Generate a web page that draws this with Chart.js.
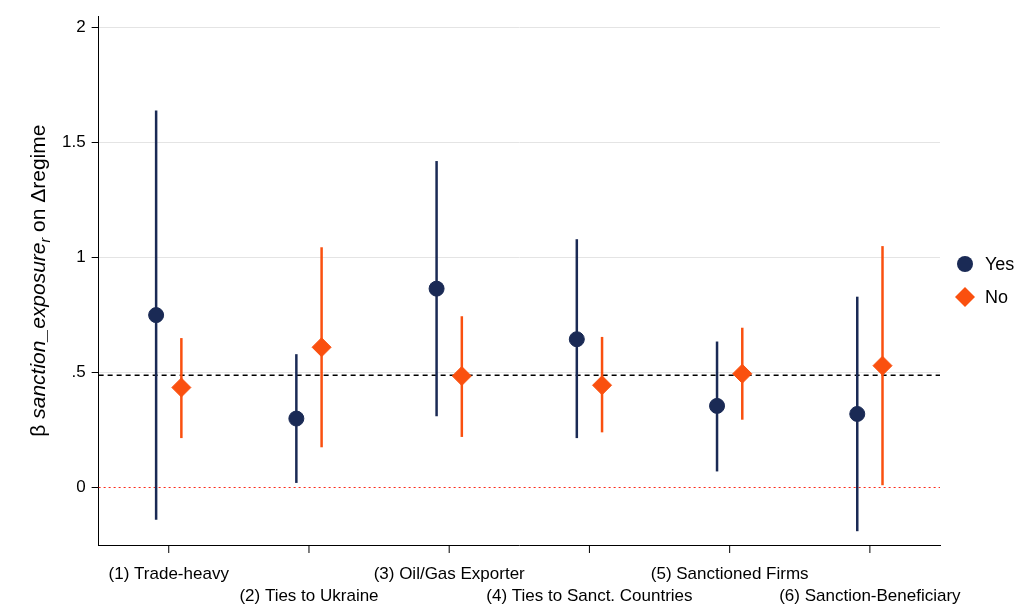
<!DOCTYPE html>
<html><head><meta charset="utf-8">
<script src="https://cdn.jsdelivr.net/npm/chart.js@4"></script>
<style>html,body{margin:0;background:#fff}#wrap{width:1024px;height:608px}</style>
</head><body><div id="wrap"><canvas id="c"></canvas></div>
<script>
const categories = ["(1) Trade-heavy", "(2) Ties to Ukraine", "(3) Oil/Gas Exporter",
  "(4) Ties to Sanct. Countries", "(5) Sanctioned Firms", "(6) Sanction-Beneficiary"];
const yesEst = [0.75, 0.30, 0.865, 0.645, 0.355, 0.32];
const yesLo = [-0.14, 0.02, 0.31, 0.215, 0.07, -0.19];
const yesHi = [1.64, 0.58, 1.42, 1.08, 0.635, 0.83];
const noEst = [0.435, 0.61, 0.485, 0.445, 0.495, 0.53];
const noLo = [0.215, 0.175, 0.22, 0.24, 0.295, 0.01];
const noHi = [0.65, 1.045, 0.745, 0.655, 0.695, 1.05];
const meanLine = 0.488;
const yTicks = [0, 0.5, 1, 1.5, 2];
const offset = 0.09;

const NAVY = "#1a2a55", ORANGE = "#fa500f";
const FONT = "Arial, 'Liberation Sans'";
const pts = (est, d) => est.map((v, i) => ({ x: i + 1 + d, y: v }));

const overlay = {
  id: "overlay",
  beforeDatasetsDraw(chart) {
    const { ctx, scales: { x, y }, chartArea: a } = chart;
    ctx.save();
    ctx.setLineDash([2, 3]); ctx.strokeStyle = "#ff2a1a"; ctx.lineWidth = 1.2;
    ctx.beginPath(); ctx.moveTo(a.left, y.getPixelForValue(0)); ctx.lineTo(a.right, y.getPixelForValue(0)); ctx.stroke();
    ctx.setLineDash([5, 4]); ctx.strokeStyle = "#000"; ctx.lineWidth = 1.6;
    ctx.beginPath(); ctx.moveTo(a.left, y.getPixelForValue(meanLine)); ctx.lineTo(a.right, y.getPixelForValue(meanLine)); ctx.stroke();
    ctx.setLineDash([]);
    ctx.lineWidth = 2.5;
    const bars = (lo, hi, d, col) => lo.forEach((l, i) => {
      const px = x.getPixelForValue(i + 1 + d);
      ctx.strokeStyle = col; ctx.beginPath();
      ctx.moveTo(px, y.getPixelForValue(l)); ctx.lineTo(px, y.getPixelForValue(hi[i])); ctx.stroke();
    });
    bars(yesLo, yesHi, -offset, NAVY);
    bars(noLo, noHi, offset, ORANGE);
    ctx.fillStyle = "#000"; ctx.font = "17px " + FONT; ctx.textAlign = "center";
    ctx.strokeStyle = "#000"; ctx.lineWidth = 1;
    categories.forEach((c, i) => {
      const px = x.getPixelForValue(i + 1);
      ctx.beginPath(); ctx.moveTo(px, a.bottom); ctx.lineTo(px, a.bottom + 8); ctx.stroke();
      ctx.fillText(c, px, a.bottom + (i % 2 === 0 ? 34 : 56));
    });
    // legend
    ctx.fillStyle = NAVY; ctx.beginPath(); ctx.arc(a.right + 25, 264, 8, 0, Math.PI * 2); ctx.fill();
    ctx.fillStyle = ORANGE; ctx.beginPath();
    ctx.moveTo(a.right + 25, 287); ctx.lineTo(a.right + 35, 297); ctx.lineTo(a.right + 25, 307); ctx.lineTo(a.right + 15, 297); ctx.fill();
    ctx.fillStyle = "#000"; ctx.font = "18px " + FONT; ctx.textAlign = "left"; ctx.textBaseline = "middle";
    ctx.fillText("Yes", a.right + 45, 265); ctx.fillText("No", a.right + 45, 298);
    ctx.textBaseline = "alphabetic";
    // y title
    ctx.translate(45, (a.top + a.bottom) / 2); ctx.rotate(-Math.PI / 2);
    const parts = [["β ", "21px " + FONT, 0], ["sanction_exposure", "italic 21px " + FONT, 0],
      ["r", "italic 14px " + FONT, 5], [" on Δregime", "21px " + FONT, 0]];
    let w = 0; parts.forEach(p => { ctx.font = p[1]; w += ctx.measureText(p[0]).width; });
    let cx = -w / 2; ctx.textAlign = "left";
    parts.forEach(p => { ctx.font = p[1]; ctx.fillText(p[0], cx, p[2]); cx += ctx.measureText(p[0]).width; });
    ctx.restore();
  }
};

new Chart(document.getElementById("c"), {
  type: "scatter",
  data: { datasets: [
    { label: "Yes", data: pts(yesEst, -offset), backgroundColor: NAVY, borderColor: NAVY, pointStyle: "circle", pointRadius: 7.5 },
    { label: "No", data: pts(noEst, offset), backgroundColor: ORANGE, borderColor: ORANGE, pointStyle: "rectRot", pointRadius: 9.5 }
  ] },
  options: {
    responsive: true, maintainAspectRatio: false, animation: false,
    layout: { padding: { top: 14, bottom: 55, left: 56, right: 84 } },
    plugins: { tooltip: { enabled: false }, legend: { display: false } },
    scales: {
      x: { type: "linear", min: 0.5, max: 6.5, ticks: { display: false },
        grid: { display: false }, border: { color: "#000", width: 1 } },
      y: { min: -0.25, max: 2.05, afterBuildTicks: s => { s.ticks = yTicks.map(v => ({ value: v })); },
        ticks: { color: "#000", font: { size: 17, family: FONT }, padding: 6,
          callback: v => v === 0.5 ? ".5" : String(v) },
        grid: { color: c => (c.tick && c.tick.value === 0) ? "rgba(0,0,0,0)" : "#e4e4e4",
          tickColor: "#000", tickLength: 7, lineWidth: 1, tickBorderDash: [], drawTicks: true },
        border: { color: "#000", width: 1, dash: [] } }
    }
  },
  plugins: [overlay]
});
</script></body></html>
